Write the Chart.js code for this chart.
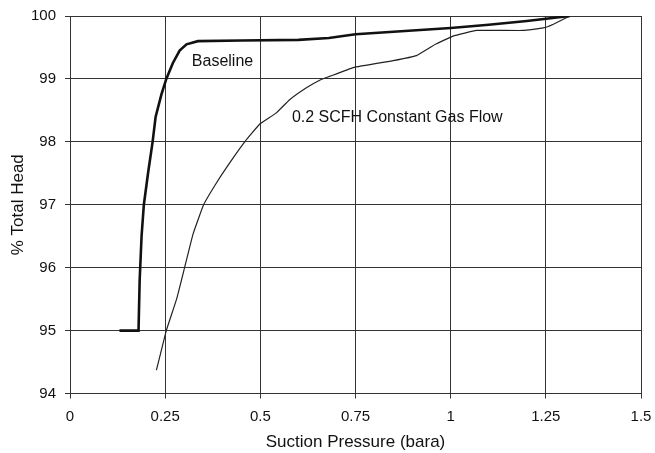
<!DOCTYPE html>
<html>
<head>
<meta charset="utf-8">
<script src="https://cdn.jsdelivr.net/npm/chart.js@4"></script>
<style>
  html, body { margin: 0; padding: 0; background: #fff; }
  #wrap { width: 655px; height: 453px; }
</style>
</head>
<body>
<div id="wrap"><canvas id="chart"></canvas></div>
<script>
// values
const baselineX = [0.13, 0.18, 0.183, 0.188, 0.194, 0.205, 0.217, 0.225, 0.24, 0.253, 0.27, 0.288, 0.306, 0.336, 0.45, 0.6, 0.68, 0.75, 0.85, 1.0, 1.1, 1.2, 1.313]
const baselineY = [95, 95, 95.8, 96.5, 97, 97.5, 98, 98.4, 98.75, 99, 99.25, 99.45, 99.55, 99.6, 99.61, 99.62, 99.65, 99.71, 99.75, 99.81, 99.86, 99.92, 100]

const gasX = [0.227, 0.253, 0.28, 0.301, 0.323, 0.351, 0.385, 0.42, 0.459, 0.498, 0.542, 0.577, 0.621, 0.656, 0.682, 0.744, 0.849, 0.91, 0.96, 1.006, 1.068, 1.19, 1.243, 1.27, 1.313]
const gasY = [94.37, 95, 95.5, 96, 96.53, 97, 97.35, 97.67, 98, 98.28, 98.46, 98.67, 98.86, 98.98, 99.04, 99.18, 99.29, 99.37, 99.55, 99.68, 99.77, 99.77, 99.81, 99.87, 100]

const xTicks = [0, 0.25, 0.5, 0.75, 1, 1.25, 1.5]
const yTicks = [94, 95, 96, 97, 98, 99, 100]

const seriesNames = ['Baseline', '0.2 SCFH Constant Gas Flow']
const labelSpots = [{ x: 0.32, y: 99.28 }, { x: 0.583, y: 98.39 }]

function toPoints(xs, ys) {
  return xs.map((x, i) => ({ x: x, y: ys[i] }))
}

const fontFamily = '"Liberation Sans", Arial, sans-serif'

const curveLabels = {
  id: 'curveLabels',
  afterDatasetsDraw(chart) {
    const ctx = chart.ctx
    const xs = chart.scales.x
    const ys = chart.scales.y
    ctx.save()
    ctx.font = '16px ' + fontFamily
    ctx.fillStyle = '#111'
    ctx.textBaseline = 'middle'
    ctx.textAlign = 'left'
    for (let i = 0; i < seriesNames.length; i++) {
      ctx.fillText(seriesNames[i], xs.getPixelForValue(labelSpots[i].x), ys.getPixelForValue(labelSpots[i].y))
    }
    ctx.restore()
  }
}

const tickFont = { family: fontFamily, size: 15 }

const config = {
  type: 'line',
  data: {
    datasets: [{
      label: seriesNames[0],
      data: toPoints(baselineX, baselineY),
      borderColor: '#111',
      borderWidth: 2.6,
      pointRadius: 0,
      tension: 0,
      fill: false
    }, {
      label: seriesNames[1],
      data: toPoints(gasX, gasY),
      borderColor: '#222',
      borderWidth: 1.2,
      pointRadius: 0,
      tension: 0.1,
      fill: false
    }]
  },
  options: {
    responsive: true,
    maintainAspectRatio: false,
    animation: false,
    layout: { padding: { top: 16, right: 14, left: 0, bottom: 0 } },
    plugins: {
      legend: { display: false },
      tooltip: { enabled: false }
    },
    scales: {
      x: {
        type: 'linear',
        min: 0,
        max: 1.5,
        afterBuildTicks: (scale) => { scale.ticks = xTicks.map(v => ({ value: v })) },
        afterFit: (scale) => {
          scale.height = 59.5
          scale.paddingRight = 0
          scale.paddingLeft = 0
        },
        ticks: {
          color: '#111',
          font: tickFont,
          padding: 9,
          maxRotation: 0,
          callback: (v) => String(v)
        },
        grid: { color: '#333', lineWidth: 1, tickLength: 5, drawOnChartArea: true },
        border: { color: '#333', width: 1 },
        title: {
          display: true,
          text: 'Suction Pressure (bara)',
          color: '#111',
          font: { family: fontFamily, size: 17 },
          padding: { top: 0, bottom: 0 }
        }
      },
      y: {
        type: 'linear',
        min: 94,
        max: 100,
        afterBuildTicks: (scale) => { scale.ticks = yTicks.map(v => ({ value: v })) },
        afterFit: (scale) => {
          scale.width = 70
          scale.paddingTop = 0
          scale.paddingBottom = 0
        },
        ticks: {
          color: '#111',
          font: tickFont,
          padding: 9
        },
        grid: { color: '#333', lineWidth: 1, tickLength: 5 },
        border: { color: '#333', width: 1 },
        title: {
          display: true,
          text: '% Total Head',
          color: '#111',
          font: { family: fontFamily, size: 17 },
          padding: { top: 8, bottom: 0 }
        }
      }
    }
  },
  plugins: [curveLabels]
}

const myChart = new Chart(document.getElementById('chart'), config)
</script>
</body>
</html>
